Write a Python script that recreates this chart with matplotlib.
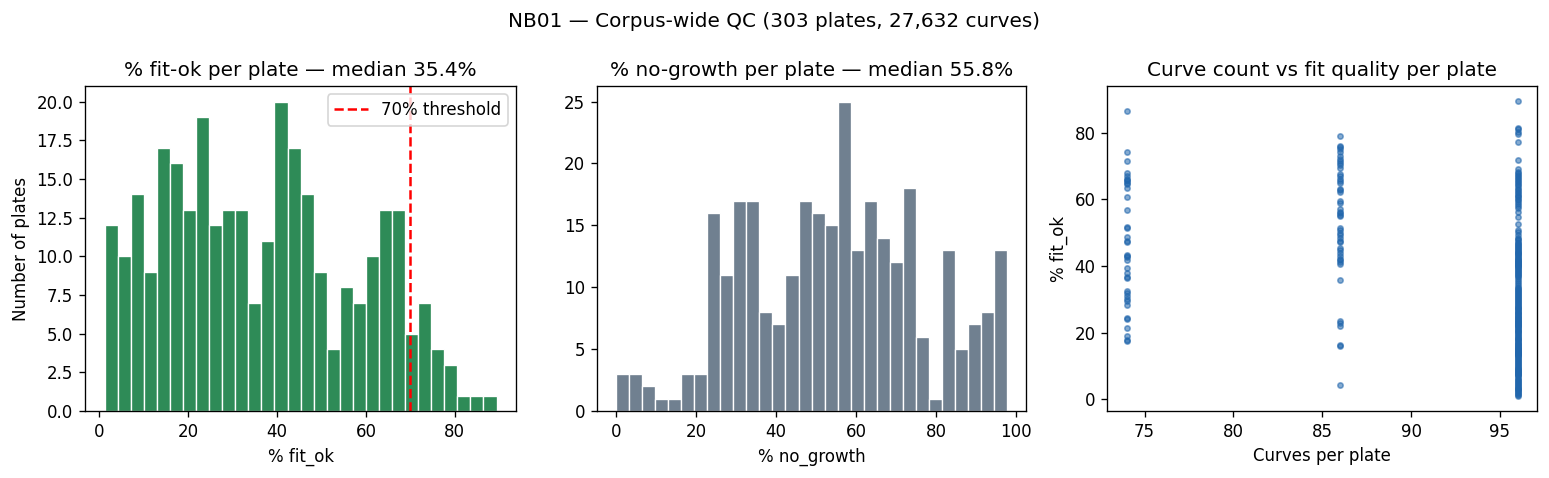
import numpy as np
import matplotlib
matplotlib.use("Agg")
from matplotlib import pyplot as plt

# histogram counts (30 bins each)
fit_ok_counts = [12, 10, 14, 9, 17, 16, 13, 19, 12, 13, 13, 7, 11, 20, 17,
                 14, 9, 4, 8, 7, 10, 13, 13, 5, 7, 4, 3, 1, 1, 1]
fit_ok_range = (1.2, 89.4)
no_growth_counts = [3, 3, 2, 1, 1, 3, 3, 16, 11, 17, 17, 8, 7, 11, 17,
                    16, 15, 25, 13, 17, 14, 12, 18, 6, 1, 13, 5, 7, 8, 13]
no_growth_range = (0.0, 97.7)

median_fit_ok = 35.4
median_no_growth = 55.8
threshold = 70

# scatter: % fit_ok per plate, grouped by curves per plate
fit_ok_74 = [86.6, 74.3, 71.6, 67.8, 67.0, 66.2, 65.8, 65.4, 65.0, 64.6, 63.4,
             60.8, 56.9, 51.6, 51.3, 48.6, 47.6, 47.2, 43.4, 43.0, 42.6, 41.8,
             39.3, 37.8, 36.6, 36.3, 32.5, 32.0, 31.0, 30.0, 29.5, 28.4, 24.3,
             24.0, 21.5, 18.9, 17.7, 17.4]
fit_ok_86 = [79.1, 76.0, 75.6, 75.0, 74.2, 73.0, 72.2, 71.6, 71.0, 70.2, 69.5,
             67.5, 67.0, 66.2, 65.4, 65.0, 63.2, 62.8, 62.2, 59.4, 59.0, 57.0,
             56.2, 55.8, 55.4, 55.0, 51.5, 50.8, 50.0, 49.2, 48.5, 47.6, 47.2,
             45.5, 44.8, 44.0, 43.0, 42.2, 41.8, 41.2, 40.5, 35.9, 23.5, 22.8,
             22.0, 16.3, 16.0, 4.4]
fit_ok_96 = [0.9, 1.3, 1.6, 1.9, 2.2, 2.5, 2.7, 3.0, 3.2, 3.4, 3.7, 4.0,
             4.3, 4.6, 4.9, 5.2, 5.5, 5.8, 6.1, 6.5, 6.9,
             7.2, 7.4, 7.6, 7.8, 8.0, 8.2, 8.4, 8.6, 8.8, 9.0, 9.2, 9.4, 9.6, 9.9,
             10.2, 10.5, 10.8, 11.1, 11.4, 11.7, 12.0, 12.4, 12.8,
             13.0, 13.2, 13.3, 13.5, 13.7, 13.8, 14.0, 14.2, 14.3, 14.5, 14.7,
             14.8, 15.0, 15.2, 15.4, 15.6, 15.8,
             16.0, 16.2, 16.5, 16.7, 17.0, 17.2, 17.5, 17.7, 18.0, 18.2, 18.5, 18.7,
             19.0, 19.3, 19.6, 19.8, 20.1, 20.4, 20.6, 20.9, 21.1, 21.4, 21.7,
             21.9, 22.1, 22.3, 22.5, 22.7, 22.9, 23.1, 23.3, 23.5, 23.7, 23.9,
             24.1, 24.3, 24.6,
             24.8, 25.0, 25.3, 25.5, 25.8, 26.0, 26.3, 26.5, 26.8, 27.0, 27.3, 27.5,
             27.8, 28.1, 28.4, 28.7, 29.0, 29.3, 29.6, 29.9, 30.2, 30.5,
             30.7, 31.0, 31.3, 31.6, 31.9, 32.2, 32.5, 32.8, 33.1, 33.4,
             33.8, 34.4, 35.0, 35.6, 36.2,
             36.6, 36.9, 37.2, 37.5, 37.9, 38.2, 38.5, 38.9, 39.2,
             39.5, 39.7, 39.9, 40.1, 40.3, 40.5, 40.7, 40.9, 41.1, 41.3, 41.5,
             41.7, 41.9, 42.2,
             42.5, 42.7, 43.0, 43.2, 43.5, 43.8, 44.0, 44.3, 44.6, 44.9, 45.2,
             45.4, 45.7, 46.0, 46.3, 46.6, 47.0, 47.3, 47.7, 48.1,
             48.5, 49.3, 50.1, 50.9, 52.6, 54.8, 56.3,
             57.3, 58.0, 58.6, 59.2, 59.8,
             60.2, 60.6, 61.0, 61.4, 61.8, 62.2, 62.7,
             63.2, 63.7, 64.2, 64.7, 65.1, 65.6,
             66.0, 66.5, 66.9, 67.4, 67.9, 68.3,
             69.0, 71.9, 77.3, 79.5, 80.2, 81.0, 81.5, 89.6]

n_plates = 303
n_curves = 27632

fig = plt.figure(figsize=(1549 / 120, 478 / 120), dpi=120)
ax1 = fig.add_axes([0.0549, 0.140, 0.2783, 0.680])
ax2 = fig.add_axes([0.3852, 0.140, 0.2774, 0.680])
ax3 = fig.add_axes([0.7148, 0.140, 0.2776, 0.680])

# left: % fit-ok histogram
edges = np.linspace(fit_ok_range[0], fit_ok_range[1], len(fit_ok_counts) + 1)
ax1.bar(edges[:-1], fit_ok_counts, width=np.diff(edges), align='edge',
        color='seagreen', edgecolor='white', linewidth=0.8)
ax1.axvline(threshold, color='red', linestyle='--', linewidth=1.5,
            label='{}% threshold'.format(threshold))
ax1.set_title('% fit-ok per plate — median {:.1f}%'.format(median_fit_ok))
ax1.set_xlabel('% fit_ok')
ax1.set_ylabel('Number of plates')
ax1.legend(loc='upper right')

# middle: % no-growth histogram
edges = np.linspace(no_growth_range[0], no_growth_range[1], len(no_growth_counts) + 1)
ax2.bar(edges[:-1], no_growth_counts, width=np.diff(edges), align='edge',
        color='slategray', edgecolor='white', linewidth=0.8)
ax2.set_title('% no-growth per plate — median {:.1f}%'.format(median_no_growth))
ax2.set_xlabel('% no_growth')

# right: curve count vs fit quality
xs = [74] * len(fit_ok_74) + [86] * len(fit_ok_86) + [96] * len(fit_ok_96)
ys = fit_ok_74 + fit_ok_86 + fit_ok_96
ax3.scatter(xs, ys, s=10, color='#2166ac', alpha=0.55)
ax3.set_title('Curve count vs fit quality per plate')
ax3.set_xlabel('Curves per plate')
ax3.set_ylabel('% fit_ok')

fig.suptitle('NB01 — Corpus-wide QC ({} plates, {:,} curves)'.format(n_plates, n_curves),
             y=0.975)

fig.savefig('out.png', dpi=120)
